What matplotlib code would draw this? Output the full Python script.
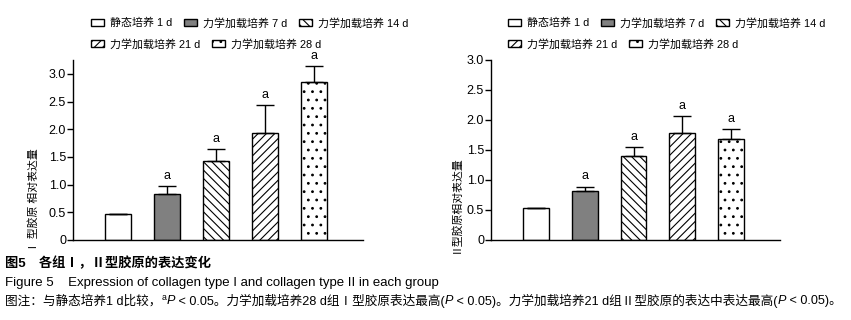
import matplotlib
matplotlib.use('Agg')
import matplotlib.pyplot as plt
import numpy as np

plt.rcParams['font.family'] = ['Liberation Sans', 'Noto Sans CJK SC', 'DejaVu Sans']
plt.rcParams['hatch.linewidth'] = 0.8

# data
groups = ['静态培养 1 d', '力学加载培养 7 d', '力学加载培养 14 d',
          '力学加载培养 21 d', '力学加载培养 28 d']
col1_mean = [0.47, 0.83, 1.42, 1.94, 2.86]
col1_err = [0.0, 0.14, 0.22, 0.49, 0.28]
col2_mean = [0.53, 0.81, 1.40, 1.79, 1.68]
col2_err = [0.0, 0.08, 0.15, 0.27, 0.17]
sig = ['', 'a', 'a', 'a', 'a']
yticks = [0, 0.5, 1.0, 1.5, 2.0, 2.5, 3.0]
ytick_labels = ['0', '0.5', '1.0', '1.5', '2.0', '2.5', '3.0']

faces = ['white', '#808080', 'white', 'white', 'white']
hatches = ['', '', '\\\\\\\\', '////', '..']

W, H = 851, 320
fig = plt.figure(figsize=(W / 100, H / 100), dpi=100)


def draw(ax, means, errs, ymax, leg_x):
    x = np.arange(len(means))
    bars = ax.bar(x, means, width=0.53, color=faces, edgecolor='black', linewidth=1.0)
    for b, h in zip(bars, hatches):
        b.set_hatch(h)
    ax.errorbar(x, means, yerr=[np.zeros(len(errs)), errs], fmt='none',
                ecolor='black', elinewidth=1.0, capsize=6.5, capthick=1.0)
    for xi, m, e, s in zip(x, means, errs, sig):
        if s:
            ax.annotate(s, (xi, m + e), xytext=(0, 3), textcoords='offset points',
                        ha='center', va='bottom', fontsize=9)
    ax.set_xlim(-0.92, 5.0)
    ax.set_ylim(0, ymax)
    ax.set_yticks(yticks)
    ax.set_yticklabels(ytick_labels)
    ax.set_xticks([])
    ax.tick_params(axis='y', direction='out', length=4, width=1.0, pad=1, labelsize=9)
    for sp in ['top', 'right']:
        ax.spines[sp].set_visible(False)
    for sp in ['left', 'bottom']:
        ax.spines[sp].set_linewidth(1.0)

    kw = dict(frameon=False, fontsize=7.9, handlelength=1.2, handleheight=0.7,
              handletextpad=0.55, columnspacing=1.05, borderpad=0, borderaxespad=0,
              loc='center left', bbox_transform=fig.transFigure)
    leg1 = ax.legend(bars[:3], groups[:3], ncol=3,
                     bbox_to_anchor=(leg_x / W, 1 - 23 / H), **kw)
    ax.add_artist(leg1)
    ax.legend(bars[3:], groups[3:], ncol=2,
              bbox_to_anchor=(leg_x / W, 1 - 44 / H), **kw)


ax1 = fig.add_axes([73 / W, 80 / H, 290 / W, 180 / H])
draw(ax1, col1_mean, col1_err, 3.25, 91)
ax2 = fig.add_axes([491 / W, 80 / H, 289 / W, 180 / H])
draw(ax2, col2_mean, col2_err, 3.0, 508)

fig.text(33 / W, 1 - 200 / H, 'Ⅰ 型胶原 相对表达量', rotation=90, ha='center', va='center', fontsize=7.8)
fig.text(455 / W, 1 - 204 / H, 'Ⅱ型胶原相对表达量', rotation=90, ha='center', va='center', fontsize=7.8)

fig.text(5 / W, 1 - 263 / H, '图5　各组Ⅰ，Ⅱ型胶原的表达变化', fontweight='bold', fontsize=9.5, va='center')
fig.text(5 / W, 1 - 283 / H, 'Figure 5    Expression of collagen type I and collagen type II in each group',
         fontsize=9.5, va='center')

# note line: pieces laid end to end, P in italic, superscript a raised
note = [('图注：与静态培养1 d比较，', 'normal', 0), ('a', 'normal', 1), ('P', 'italic', 0),
        (' < 0.05。力学加载培养28 d组Ⅰ型胶原表达最高(', 'normal', 0), ('P', 'italic', 0),
        (' < 0.05)。力学加载培养21 d组Ⅱ型胶原的表达中表达最高(', 'normal', 0), ('P', 'italic', 0),
        (' < 0.05)。', 'normal', 0)]
renderer = fig.canvas.get_renderer()
xpos = 5.0
for txt, style, sup in note:
    size = 6.3 if sup else 9.1
    ypix = 301 - 4 if sup else 301
    t = fig.text(xpos / W, 1 - ypix / H, txt, fontsize=size, style=style, va='center')
    xpos += t.get_window_extent(renderer).width

fig.savefig('out.png', dpi=100)
